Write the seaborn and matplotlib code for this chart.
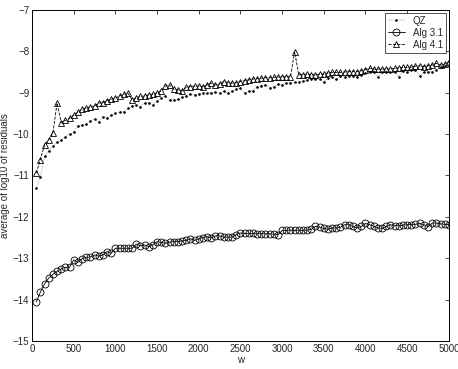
# average residuals vs w for QZ, Alg 3.1 and Alg 4.1

import numpy as np
import pandas as pd
import seaborn as sns
import matplotlib
matplotlib.use("Agg")
import matplotlib.pyplot as plt

w = list(range(50, 5001, 50))

qz = [-11.31, -11.03, -10.54, -10.40, -10.29, -10.20, -10.14, -10.06, -10.00, -9.94,
      -9.80, -9.79, -9.76, -9.68, -9.64, -9.70, -9.58, -9.62, -9.54, -9.50,
      -9.47, -9.46, -9.38, -9.32, -9.29, -9.34, -9.25, -9.24, -9.29, -9.21,
      -9.12, -9.08, -9.17, -9.17, -9.16, -9.11, -9.08, -9.03, -9.05, -9.03,
      -9.01, -9.01, -9.00, -8.99, -9.01, -8.97, -9.01, -8.96, -8.92, -8.89,
      -9.00, -8.97, -8.95, -8.85, -8.83, -8.81, -8.88, -8.85, -8.80, -8.81,
      -8.77, -8.76, -8.75, -8.74, -8.72, -8.69, -8.67, -8.67, -8.67, -8.75,
      -8.65, -8.63, -8.67, -8.59, -8.63, -8.59, -8.59, -8.61, -8.57, -8.53,
      -8.49, -8.51, -8.61, -8.51, -8.49, -8.51, -8.51, -8.61, -8.47, -8.51,
      -8.45, -8.45, -8.59, -8.51, -8.49, -8.49, -8.45, -8.39, -8.35, -8.33]

alg31 = [-14.06, -13.82, -13.62, -13.48, -13.39, -13.32, -13.26, -13.22, -13.22, -13.04,
         -13.10, -13.01, -12.98, -12.97, -12.92, -12.95, -12.92, -12.84, -12.88, -12.76,
         -12.76, -12.76, -12.76, -12.76, -12.66, -12.70, -12.68, -12.72, -12.68, -12.60,
         -12.62, -12.64, -12.61, -12.60, -12.60, -12.58, -12.57, -12.53, -12.57, -12.53,
         -12.50, -12.48, -12.51, -12.46, -12.46, -12.49, -12.49, -12.49, -12.43, -12.39,
         -12.40, -12.40, -12.40, -12.41, -12.41, -12.41, -12.41, -12.42, -12.43, -12.33,
         -12.33, -12.32, -12.33, -12.32, -12.33, -12.32, -12.30, -12.23, -12.25, -12.28,
         -12.30, -12.27, -12.27, -12.25, -12.19, -12.19, -12.23, -12.27, -12.23, -12.16,
         -12.19, -12.23, -12.27, -12.28, -12.23, -12.19, -12.21, -12.22, -12.20, -12.19,
         -12.19, -12.18, -12.16, -12.19, -12.24, -12.15, -12.15, -12.17, -12.18, -12.19]

alg41 = [-10.94, -10.62, -10.26, -10.14, -9.98, -9.25, -9.72, -9.67, -9.62, -9.54,
         -9.47, -9.40, -9.38, -9.34, -9.32, -9.25, -9.24, -9.19, -9.16, -9.13,
         -9.08, -9.04, -9.01, -9.17, -9.13, -9.09, -9.08, -9.05, -9.04, -9.01,
         -8.95, -8.84, -8.81, -8.92, -8.93, -8.95, -8.87, -8.85, -8.84, -8.84,
         -8.85, -8.81, -8.77, -8.81, -8.79, -8.73, -8.76, -8.77, -8.76, -8.73,
         -8.71, -8.69, -8.67, -8.66, -8.65, -8.64, -8.64, -8.63, -8.62, -8.62,
         -8.61, -8.61, -8.01, -8.57, -8.56, -8.55, -8.56, -8.57, -8.55, -8.55,
         -8.52, -8.51, -8.51, -8.51, -8.50, -8.49, -8.49, -8.49, -8.47, -8.44,
         -8.41, -8.43, -8.43, -8.43, -8.43, -8.42, -8.41, -8.40, -8.39, -8.39,
         -8.38, -8.36, -8.35, -8.37, -8.35, -8.33, -8.29, -8.33, -8.31, -8.25]

sns.set_style("white")
plt.rcParams['font.family'] = ['Liberation Sans', 'DejaVu Sans']

df = pd.DataFrame({'w': w, 'QZ': qz, 'Alg 3.1': alg31, 'Alg 4.1': alg41})

fig = plt.figure(figsize=(4.58, 3.69), dpi=100)
ax = fig.add_axes([0.070, 0.076, 0.910, 0.897])

sns.lineplot(data=df, x='w', y='QZ', ax=ax, color='k', linestyle=':', linewidth=0.3,
             marker='.', markersize=2.2, markeredgecolor='k', label='QZ')
sns.lineplot(data=df, x='w', y='Alg 3.1', ax=ax, color='k', linestyle='-', linewidth=0.6,
             marker='o', markersize=5, markerfacecolor='none', markeredgecolor='k',
             markeredgewidth=0.6, label='Alg 3.1')
sns.lineplot(data=df, x='w', y='Alg 4.1', ax=ax, color='k', linestyle='--', linewidth=0.6,
             marker='^', markersize=5, markerfacecolor='none', markeredgecolor='k',
             markeredgewidth=0.6, label='Alg 4.1')

ax.set_xlim(0, 5000)
ax.set_ylim(-15, -7)
ax.set_xticks(np.arange(0, 5001, 500))
ax.set_yticks(np.arange(-15, -6, 1))
ax.set_xlabel('w', fontsize=7, labelpad=1)
ax.set_ylabel('average of log10 of residuals', fontsize=7, labelpad=2)
ax.tick_params(direction='in', top=True, right=True, labelsize=7, length=3, width=0.6, pad=2)
for s in ax.spines.values():
    s.set_linewidth(0.7)
    s.set_color('k')

leg = ax.legend(loc='upper right', fontsize=7, frameon=True, fancybox=False,
                edgecolor='k', handlelength=1.8, borderpad=0.3, labelspacing=0.2,
                borderaxespad=0.3)
leg.get_frame().set_linewidth(0.6)

fig.savefig('out.png', dpi=100)
